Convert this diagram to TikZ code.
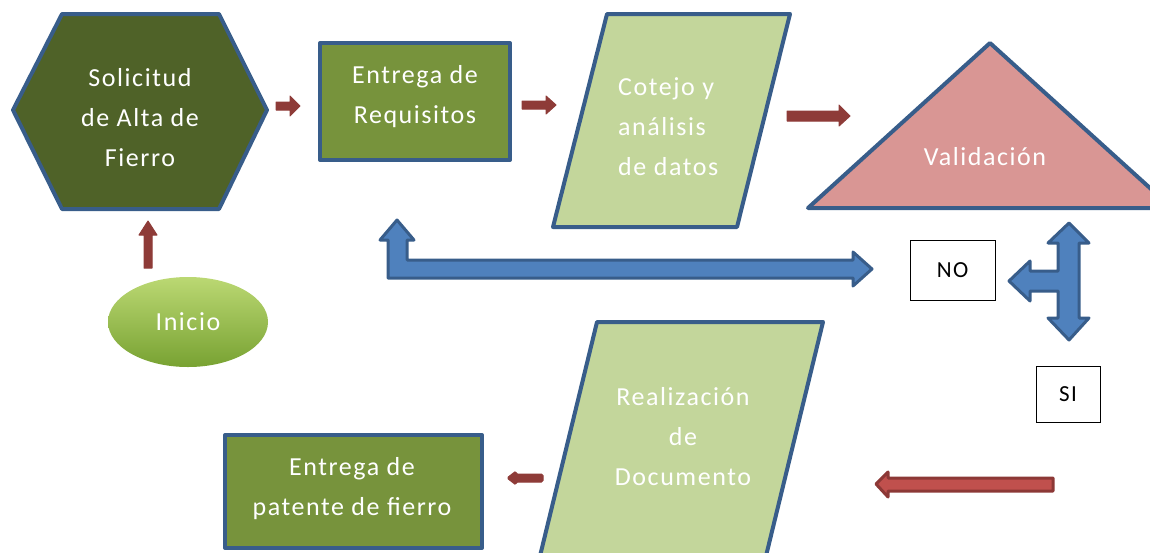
\documentclass[tikz,border=0pt]{standalone}
\usepackage{fontspec}
\setmainfont{Carlito}[LetterSpace=6]
\definecolor{bordblue}{HTML}{385D8A}
\definecolor{hexgreen}{HTML}{4F6228}
\definecolor{rectgreen}{HTML}{77933C}
\definecolor{lightgreen}{HTML}{C3D69B}
\definecolor{pinkfill}{HTML}{D99694}
\definecolor{maroon}{HTML}{8E3B38}
\definecolor{arrblue}{HTML}{4F81BD}
\definecolor{redfill}{HTML}{C0504D}
\definecolor{redbord}{HTML}{8C3836}
\definecolor{inicioTop}{HTML}{BBD873}
\definecolor{inicioBot}{HTML}{78A232}
\begin{document}
\begin{tikzpicture}[x=1pt,y=-1pt,
  shapebox/.style={draw=bordblue,line width=4pt,line join=round},
  lbl/.style={text=white,font=\fontsize{26}{40}\selectfont,align=center,inner sep=0pt},
  smallarr/.style={fill=maroon,draw=maroon,line width=1pt,line join=round},
  bluearr/.style={fill=arrblue,draw=bordblue,line width=3pt,line join=round},
  answer/.style={draw=black,line width=1pt,fill=white,font=\fontsize{23}{26}\selectfont,inner sep=0pt}]
\useasboundingbox (0,0) rectangle (1150,552);
\begin{scope}
\clip (0,0) rectangle (1150,552);
% shapes
\draw[shapebox,fill=hexgreen] (13,110) -- (62,14) -- (219,14) -- (267,110) -- (219,209) -- (62,209) -- cycle;
\draw[shapebox,fill=rectgreen] (320,43) rectangle (510,160);
\draw[shapebox,fill=lightgreen] (607,14) -- (790,14) -- (737,227) -- (553,227) -- cycle;
\draw[shapebox,fill=pinkfill] (990,43) -- (1172,208) -- (808,208) -- cycle;
\draw[shapebox,fill=lightgreen] (597,322) -- (823,322) -- (766,556) -- (540,556) -- cycle;
\draw[shapebox,fill=rectgreen] (225,435) rectangle (482,548);
\shade[top color=inicioTop,bottom color=inicioBot] (188,322) ellipse [x radius=80,y radius=45];
\end{scope}
% labels
\node[lbl] (sol) at (140,118) {Solicitud\\de Alta de\\Fierro};
\node[lbl] (req) at (415,97) {Entrega de\\Requisitos};
\node[lbl,align=left,anchor=west] (cot) at (618,127) {Cotejo y\\análisis\\de datos};
\node[lbl] (val) at (985,157) {Validación};
\node[lbl] (ini) at (188,322) {Inicio};
\node[lbl] (rea) at (683,437) {Realización\\de\\Documento};
\node[lbl] (pat) at (352,489) {Entrega de\\patente de fierro};
\node[answer,minimum width=85pt,minimum height=60pt] (no) at (952.5,270) {NO};
\node[answer,minimum width=64pt,minimum height=56pt] (si) at (1068,394) {SI};
% small maroon arrows
\draw[smallarr] (276,102) -- (290,102) -- (290,96) -- (300,106) -- (290,116) -- (290,110) -- (276,110) -- cycle;
\draw[smallarr] (522,101) -- (546,101) -- (546,96) -- (556,105) -- (546,114) -- (546,109) -- (522,109) -- cycle;
\draw[smallarr] (787,111) -- (839,111) -- (839,105) -- (850,116) -- (839,126) -- (839,121) -- (787,121) -- cycle;
\draw[smallarr] (144,268) -- (144,235) -- (139,235) -- (148,221) -- (157,235) -- (152,235) -- (152,268) -- cycle;
\draw[smallarr,rounded corners=1.5pt] (543,474) -- (516,474) -- (516,471) -- (507,478) -- (516,485) -- (516,482) -- (543,482) -- cycle;
% big red arrow
\draw[fill=redfill,draw=redbord,line width=3pt,line join=round] (1053,478) -- (888,478) -- (888,472) -- (876,484) -- (888,497) -- (888,491) -- (1053,491) -- cycle;
% blue arrows
\draw[bluearr] (397,220) -- (414,240) -- (407,240) -- (407,260) -- (853,260) -- (853,252) -- (872,269) -- (853,286) -- (853,278) -- (388,278) -- (388,240) -- (380,240) -- cycle;
\draw[bluearr] (1069,223) -- (1089,243) -- (1079,243) -- (1079,318) -- (1089,318) -- (1069,340) -- (1048,318) -- (1058,318) -- (1058,291) -- (1030,291) -- (1030,301) -- (1009,281) -- (1030,261) -- (1030,271) -- (1058,271) -- (1058,243) -- (1048,243) -- cycle;
\end{tikzpicture}
\end{document}
